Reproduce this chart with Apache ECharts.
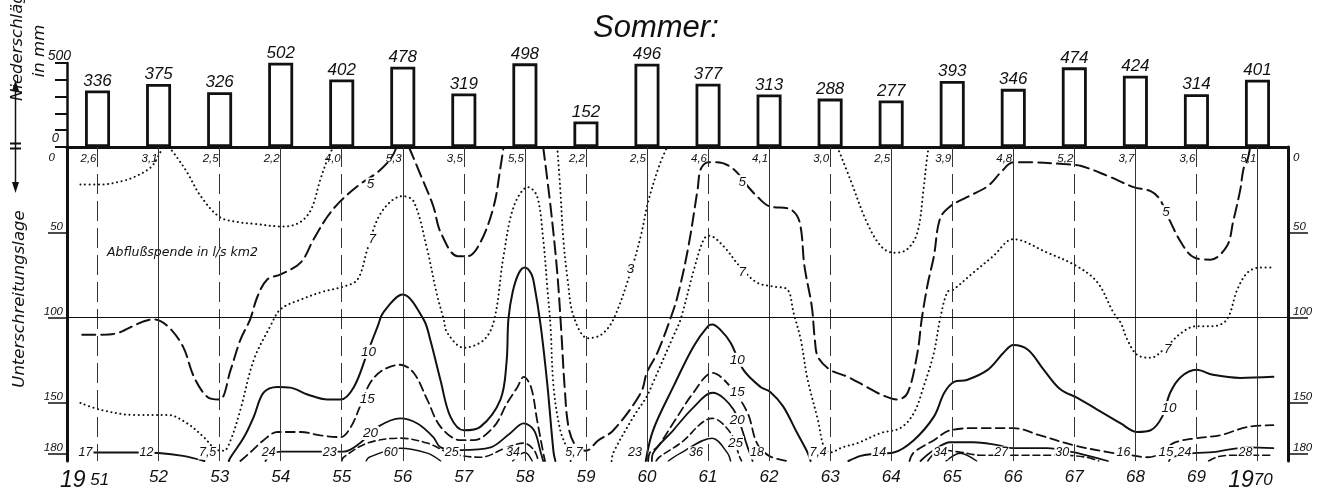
<!DOCTYPE html>
<html><head><meta charset="utf-8">
<script src="https://cdn.jsdelivr.net/npm/echarts@6/dist/echarts.min.js"></script>
<style>html,body{margin:0;padding:0;background:#fff}#c{width:1324px;height:501px}</style>
</head><body><div id="c"></div>
<script>
// ---------- DATA ----------
const years = [51,52,53,54,55,56,57,58,59,60,61,62,63,64,65,66,67,68,69,70];
const precipitation = [336,375,326,502,402,478,319,498,152,496,377,313,288,277,393,346,474,424,314,401];
const flowAtZeroDays = ['2,6','3,1','2,5','2,2','4,0','5,3','3,5','5,5','2,2','2,5','4,6','4,1','3,0','2,5','3,9','4,8','5,2','3,7','3,6','5,1'];
const flowAtMaxDays = ['17','12','7,5','24','23','60','25','34','5,7','23','36','18','7,4','14','34','27','30','16','24','28'];
const dayTicks = [50,100,150,180];
const precipTicks = [0,500];

// isolines [year, days]
const contour3 = [
  [[50.72,22],[51.05,22],[51.4,20],[51.6,17.6],[51.87,12],[52.0,5],[52.07,0]],
  [[52.17,0],[52.3,6],[52.47,15],[52.69,28.8],[53.0,41],[53.3,44],[53.56,45],[54.05,46.6],[54.32,44],[54.5,36.5],[54.65,19],[54.77,7],[54.86,0]],
  [[58.53,0],[58.58,24.7],[58.63,54],[58.7,77.6],[58.8,99.4],[59.03,112],[59.25,110],[59.45,101],[59.73,73.5],[59.9,52],[60.02,32],[60.2,11],[60.33,0]],
  [[63.12,0],[63.33,19],[63.6,44],[63.83,58],[64.04,62],[64.26,60],[64.43,50],[64.53,24.7],[64.6,3],[64.63,0]]
];
const contour5 = [
  [[50.75,110],[51.05,110],[51.33,109],[51.7,103],[51.92,101],[52.15,105],[52.4,117],[52.58,134.7],[52.8,146.5],[53.0,148],[53.18,130.6],[53.34,113],[53.5,101],[53.62,87.6],[53.78,77.6],[54.0,74.7],[54.33,67.6],[54.54,54],[54.77,40.6],[54.98,31.7],[55.3,21.8],[55.59,14.7],[55.8,7],[55.9,0]],
  [[56.1,0],[56.3,17],[56.5,34.7],[56.62,50],[56.9,64],[57.06,64],[57.27,56],[57.49,34.7],[57.6,12],[57.65,0]],
  [[58.3,0],[58.42,34.7],[58.53,73.5],[58.6,110],[58.65,140],[58.72,165],[58.85,176],[59.0,178],[59.2,172],[59.45,166],[59.9,144],[60.0,132],[60.17,120.6],[60.38,101],[60.5,87.6],[60.67,60],[60.83,24.7],[60.88,13],[61.0,9],[61.15,9],[61.42,13],[61.65,23],[61.8,28.8],[62.0,34.7],[62.35,36.5],[62.5,44],[62.58,70],[62.7,93.5],[62.75,113],[62.8,123],[63.0,130.6],[63.29,134.7],[63.6,140.6],[63.83,145],[64.1,148],[64.27,144],[64.43,120.6],[64.5,101],[64.6,80],[64.7,64],[64.8,42],[64.97,34.7],[65.24,29.4],[65.58,23],[65.8,14.7],[66.0,9],[66.28,9],[66.82,10],[67.1,11],[67.55,17],[67.97,23.5],[68.25,25.9],[68.4,30.6],[68.53,40.6],[68.75,56],[68.96,64.7],[69.23,66],[69.5,58],[69.6,44],[69.72,24.7],[69.77,13],[69.84,7],[69.88,0]]
];
const contour7 = [
  [[50.72,150],[51.05,154],[51.6,157],[52.15,157],[52.47,162],[52.74,170],[52.96,177.6],[53.07,178],[53.18,171.8],[53.34,154],[53.56,124.7],[53.83,105],[54.0,95],[54.33,89.4],[54.7,84.7],[55.03,81.8],[55.26,77.6],[55.42,60],[55.59,42],[55.8,32],[56.0,28.8],[56.18,32],[56.4,60],[56.55,85],[56.67,101],[56.73,109],[57.0,117.6],[57.33,113],[57.5,101],[57.65,64],[57.82,34.7],[58.05,23.5],[58.2,28.8],[58.3,54],[58.37,83.5],[58.42,105],[58.47,140.6],[58.58,166],[58.7,177.6],[58.75,184]],
  [[59.42,184],[59.45,179],[59.78,158],[60.0,146],[60.1,138],[60.43,111],[60.55,101],[60.77,71.8],[60.93,54],[61.02,52],[61.25,58],[61.52,70],[61.8,79.4],[62.07,81.8],[62.3,83.5],[62.4,97],[62.52,113],[62.63,136],[62.8,160],[62.9,176],[63.0,179],[63.2,176],[63.45,173.5],[63.83,167.6],[64.15,164.7],[64.37,156],[64.53,140.6],[64.7,120.6],[64.8,101],[64.92,85],[65.02,83.5],[65.35,73.5],[65.67,64],[66.0,54],[66.55,61.8],[67.05,70],[67.38,79.4],[67.64,97],[67.76,103],[67.87,113],[68.03,121.8],[68.25,123.5],[68.46,118.8],[68.75,109],[69.0,105],[69.27,105],[69.5,101],[69.67,83.5],[69.84,73.5],[70.05,70.6],[70.27,70.6]]
];
const contour10 = [
  [[50.85,179],[51.3,179],[51.65,179],[52.0,179.3],[52.4,181],[52.75,184]],
  [[53.15,184],[53.18,181.8],[53.4,170],[53.56,158],[53.72,144],[53.95,140.6],[54.16,141],[54.44,145],[54.77,148],[54.98,148],[55.2,140.6],[55.42,120.6],[55.59,105],[55.68,97],[56.0,86.5],[56.34,101],[56.45,113],[56.62,137],[56.78,158],[57.0,166],[57.27,164],[57.6,148],[57.7,126],[57.73,101],[57.8,85],[57.9,74],[58.0,70.6],[58.1,74],[58.15,80],[58.26,105],[58.37,140],[58.47,179],[58.5,184]],
  [[59.98,184],[60.1,166],[60.43,140.6],[60.76,117],[61.0,105],[61.07,104],[61.2,107],[61.37,114.7],[61.58,130.6],[61.86,140.6],[62.02,143.5],[62.23,152],[62.46,167.6],[62.63,179],[62.68,184]],
  [[63.3,184],[63.5,181],[63.66,180],[64.04,179],[64.37,171.8],[64.7,158],[64.87,144],[65.03,137.6],[65.24,136.5],[65.58,130.6],[65.84,120.6],[66.0,116],[66.24,118.8],[66.5,130.6],[66.77,142],[67.05,147],[67.38,154],[67.76,162],[68.03,167],[68.25,166],[68.44,158],[68.57,144],[68.75,134.7],[69.0,130.6],[69.27,133.5],[69.72,135.3],[70.26,134.7]]
];
const contour15 = [
  [[53.34,184],[53.5,179],[53.72,171.8],[53.95,167],[54.33,167],[54.65,169],[54.98,170],[55.15,164],[55.3,152],[55.47,138],[55.68,130.6],[55.96,127.6],[56.18,132.4],[56.4,148],[56.62,164],[56.95,171.8],[57.16,171.8],[57.49,164],[57.71,150],[57.88,140.6],[57.98,134.7],[58.1,140.6],[58.2,160],[58.3,179],[58.33,184]],
  [[60.02,184],[60.05,179],[60.17,175.9],[60.43,161.8],[60.76,144],[61.07,132.4],[61.37,140.6],[61.65,156],[61.8,173.5],[62.0,181],[62.3,184]],
  [[64.3,184],[64.37,179],[64.7,171.8],[64.97,166],[65.46,164.7],[66.0,164.7],[66.44,169],[66.98,174.7],[67.55,178.8],[67.9,180.5],[68.2,181.8],[68.45,179],[68.62,173.5],[69.0,170.6],[69.38,169],[69.84,164],[70.26,163]]
];
const contour20 = [
  [[53.75,184],[53.85,180],[54.0,178.5],[54.65,178.5],[55.03,178.5],[55.3,173.5],[55.59,164],[55.96,159],[56.24,162],[56.5,170],[56.62,176],[56.95,177.6],[57.44,176],[57.75,168],[57.98,162],[58.15,166],[58.26,179],[58.3,184]],
  [[60.08,184],[60.1,179.4],[60.43,166],[60.75,153],[61.07,144],[61.42,154],[61.65,176],[61.73,184]],
  [[64.48,184],[64.7,177.6],[64.97,173],[65.35,173],[65.74,174.7],[66.0,176.5],[66.55,176.5],[66.98,178.8],[67.31,181.8],[67.55,184]],
  [[68.55,184],[68.6,181.8],[68.96,179.4],[69.27,178.8],[69.84,176],[70.26,176.5]]
];
const contour25 = [
  [[55.0,184],[55.03,181.8],[55.42,173.5],[55.96,170.6],[56.4,173.5],[56.78,179.4],[57.27,181.8],[57.71,176],[57.98,173.5],[58.15,177.6],[58.22,184]],
  [[60.15,184],[60.2,181.8],[60.55,173.5],[61.07,159],[61.37,167.6],[61.52,181.8],[61.55,184]],
  [[64.6,184],[64.8,177.6],[65.13,178.8],[65.46,180.6],[66.0,180.6],[66.77,180.6],[67.2,181.8],[67.4,184]],
  [[69.2,184],[69.35,181.5],[69.6,180.6],[70.26,180.6]]
];
const contour30 = [
  [[55.4,184],[55.45,181.8],[55.96,176.5],[56.4,179.4],[56.62,184]],
  [[57.8,184],[58.0,179],[58.12,184]],
  [[60.35,184],[60.55,179.4],[61.07,170.6],[61.32,179.4],[61.37,184]],
  [[64.9,184],[65.13,179.4],[65.4,184]]
];
const contourLabelPos = [[55.47,22],[55.5,54],[55.44,120],[55.42,148],[55.47,167.6],[61.56,20.6],[61.56,73.5],[59.73,71.8],[61.48,124.7],[61.48,143.5],[61.48,160],[61.45,173.5],[68.5,38.2],[68.53,118.8],[68.55,153],[68.5,178.8]];
const contourLabelText = ['5','7','10','15','20','5','7','3','10','15','20','25','5','7','10','15'];

// ---------- CHART ----------
const ink = '#111';
const FONT = 'Liberation Sans';
const chart = echarts.init(document.getElementById('c'));
const series = [];

series.push({
  type:'bar', xAxisIndex:0, yAxisIndex:0, data: precipitation, barWidth:25, clip:false,
  itemStyle:{color:'#fff', borderColor:ink, borderWidth:2.8},
  label:{show:true, position:'top', distance:1, color:ink, fontFamily:FONT, fontStyle:'italic', fontSize:17}
});

function addContour(segs, style){
  segs.forEach(seg => series.push({
    type:'line', xAxisIndex:1, yAxisIndex:1, data: seg, smooth:0.35, symbol:'none', silent:true, z:3,
    lineStyle: Object.assign({color:ink, cap:'round'}, style)
  }));
}
const dotted = {width:2, type:[0.1,4.5]};
addContour(contour3, dotted);
addContour(contour5, {width:2, type:[13,6]});
addContour(contour7, dotted);
addContour(contour10, {width:2});
addContour(contour15, {width:1.8, type:[9,5]});
addContour(contour20, {width:1.8});
addContour(contour25, {width:1.6, type:[7,4]});
addContour(contour30, {width:1.5});

// reference lines (year verticals and 100-day line)
series.push({
  type:'line', xAxisIndex:1, yAxisIndex:1, data:[], z:2,
  markLine:{silent:true, symbol:['none','none'], label:{show:false}, animation:false,
    data: years.map((y,i)=>({xAxis:y, lineStyle:{color:'#333', width:1, type: i%2 ? 'solid' : [20,7]}}))
      .concat([{yAxis:100, lineStyle:{color:ink, width:1.2, type:'solid'}}])
  }
});

const hidden = {color:'rgba(0,0,0,0)', opacity:1};
// flow values at 0 days and at end of season
series.push({
  type:'scatter', xAxisIndex:1, yAxisIndex:1, z:6, symbolSize:1, itemStyle:hidden, silent:true,
  data: years.map(y=>[y,0]),
  label:{show:true, position:'bottom', distance:5, offset:[-9,0], formatter:p=>flowAtZeroDays[p.dataIndex],
    color:ink, opacity:1, fontFamily:FONT, fontStyle:'italic', fontSize:11.5}
});
series.push({
  type:'scatter', xAxisIndex:1, yAxisIndex:1, z:6, symbolSize:1, itemStyle:hidden, silent:true,
  data: years.map(y=>[y,184]),
  label:{show:true, position:'top', distance:1, offset:[-12,0], formatter:p=>flowAtMaxDays[p.dataIndex],
    color:ink, opacity:1, fontFamily:FONT, fontStyle:'italic', fontSize:12.5, backgroundColor:'#fff', padding:[0,1]}
});
// isoline labels
series.push({
  type:'scatter', xAxisIndex:1, yAxisIndex:1, z:7, symbolSize:1, itemStyle:hidden, silent:true,
  data: contourLabelPos,
  label:{show:true, position:'inside', formatter:p=>contourLabelText[p.dataIndex], textBorderWidth:0,
    color:ink, opacity:1, fontFamily:FONT, fontStyle:'italic', fontSize:13.5, backgroundColor:'#fff', padding:[0,1]}
});

const lblStyle = {color:ink, fontFamily:FONT, fontStyle:'italic'};

chart.setOption({
  animation:false,
  backgroundColor:'#fff',
  title:{text:'Sommer:', left:588, top:8, textStyle:{color:ink, fontFamily:FONT, fontStyle:'italic', fontWeight:'normal', fontSize:31}},
  grid:[{left:67, right:36, top:63, height:84}, {left:67, right:36, top:147, height:314}],
  xAxis:[
    {gridIndex:0, type:'category', data: years.map(String), boundaryGap:true,
     axisLine:{lineStyle:{color:ink, width:3}}, axisTick:{show:false}, axisLabel:{show:false}, splitLine:{show:false}},
    {gridIndex:1, type:'value', min:50.5, max:70.5, show:false},
    {gridIndex:1, type:'category', data: years.map(String), boundaryGap:true, position:'bottom',
     axisLine:{lineStyle:{color:ink, width:3}}, axisTick:{show:false}, splitLine:{show:false},
     axisLabel:{margin:8, interval:0, formatter:(v,i)=> i===0 ? '{b|19}{s| '+v+'}{p1|}' : (i===years.length-1 ? '{b|19}{s|'+v+'}{p2|}' : '{s|'+v+'}'),
       rich:{b:Object.assign({fontSize:23}, lblStyle), s:Object.assign({fontSize:17}, lblStyle), p1:{width:26}, p2:{width:14}}}}
  ],
  yAxis:[
    {gridIndex:0, type:'value', min:0, max:500, interval:100,
     axisLine:{show:true, lineStyle:{color:ink, width:2.5}}, axisTick:{show:true, length:12, lineStyle:{color:ink, width:2}},
     splitLine:{show:false},
     axisLabel:Object.assign({formatter:v=> v===precipTicks[1] ? String(v) : (v===precipTicks[0] ? '{z|'+v+'}' : ''), verticalAlign:'bottom', margin:-4, fontSize:14,
       rich:{z:Object.assign({fontSize:13, padding:[0,12,2,0]}, lblStyle)}}, lblStyle)},
    {gridIndex:1, type:'value', inverse:true, min:0, max:184, position:'left',
     axisLine:{show:true, lineStyle:{color:ink, width:3}},
     axisTick:{show:true, customValues:dayTicks, length:19, lineStyle:{color:ink, width:1.5}},
     splitLine:{show:false},
     axisLabel:Object.assign({customValues:dayTicks, verticalAlign:'bottom', margin:4, fontSize:11.5}, lblStyle)},
    {gridIndex:1, type:'value', inverse:true, min:0, max:184, position:'left',
     axisLine:{show:false}, axisTick:{show:false}, splitLine:{show:false},
     axisLabel:Object.assign({customValues:[0], verticalAlign:'top', margin:12, fontSize:11.5, padding:[5,0,0,0]}, lblStyle)},
    {gridIndex:1, type:'value', inverse:true, min:0, max:184, position:'right',
     axisLine:{show:true, lineStyle:{color:ink, width:3}},
     axisTick:{show:true, customValues:dayTicks, length:20, lineStyle:{color:ink, width:1.5}},
     splitLine:{show:false},
     axisLabel:Object.assign({customValues:dayTicks, verticalAlign:'bottom', margin:5, fontSize:11.5}, lblStyle)},
    {gridIndex:1, type:'value', inverse:true, min:0, max:184, position:'right',
     axisLine:{show:false}, axisTick:{show:false}, splitLine:{show:false},
     axisLabel:Object.assign({customValues:[0], verticalAlign:'top', margin:5, fontSize:11.5, padding:[5,0,0,0]}, lblStyle)}
  ],
  graphic:[
    {type:'text', x:107, y:253, style:{text:'Abflußspende in l/s km2', fill:ink, font:'italic 12.5px "DejaVu Sans"', textVerticalAlign:'middle', textAlign:'left'}},
    {type:'text', x:20, y:299, rotation:Math.PI/2, style:{text:'Unterschreitungslage', fill:ink, font:'italic 16.5px "DejaVu Sans"', textAlign:'center', textVerticalAlign:'middle'}},
    {type:'text', x:18, y:101, rotation:Math.PI/2, style:{text:'Niederschläge', fill:ink, font:'italic 16.5px "DejaVu Sans"', textAlign:'left', textVerticalAlign:'middle'}},
    {type:'text', x:40, y:51, rotation:Math.PI/2, style:{text:'in mm', fill:ink, font:'italic 16.5px "DejaVu Sans"', textAlign:'center', textVerticalAlign:'middle'}},
    {type:'line', shape:{x1:15.5, y1:88, x2:15.5, y2:186}, style:{stroke:ink, lineWidth:1.5}},
    {type:'polygon', shape:{points:[[15.5,80],[12,91],[19,91]]}, style:{fill:ink}},
    {type:'polygon', shape:{points:[[15.5,193],[12,182],[19,182]]}, style:{fill:ink}},
    {type:'line', shape:{x1:10, y1:143.5, x2:21, y2:143.5}, style:{stroke:ink, lineWidth:2}},
    {type:'line', shape:{x1:10, y1:148.5, x2:21, y2:148.5}, style:{stroke:ink, lineWidth:2}}
  ],
  series: series
});
</script>
</body></html>
